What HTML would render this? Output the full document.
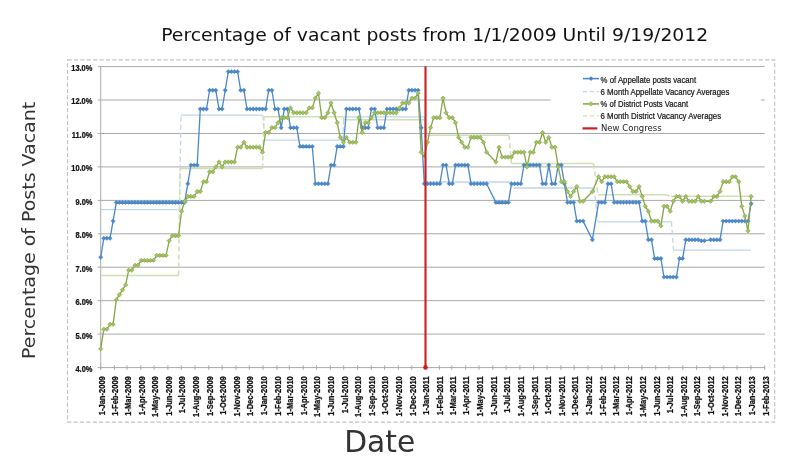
<!DOCTYPE html>
<html><head><meta charset="utf-8"><title>Percentage of vacant posts</title>
<style>
html,body{margin:0;padding:0;background:#fff;}
body{width:800px;height:462px;overflow:hidden;}
svg{display:block;}
.cal{font-family:"Liberation Sans",sans-serif;}
.dj{font-family:"DejaVu Sans","Liberation Sans",sans-serif;}
</style></head><body>
<svg width="800" height="462" viewBox="0 0 800 462">
<rect width="800" height="462" fill="#fff"/>
<rect x="67.5" y="59.9" width="707.2" height="362.2" fill="none" stroke="#c2c2c2" stroke-width="1.1" stroke-dasharray="4.2 2.2"/>
<g stroke="#a9a9a9" stroke-width="1" fill="none">
<path d="M97.7 367.6H764.7"/><path d="M97.7 334.1H764.7"/><path d="M97.7 300.7H764.7"/><path d="M97.7 267.2H764.7"/><path d="M97.7 233.8H764.7"/><path d="M97.7 200.4H764.7"/><path d="M97.7 166.9H764.7"/><path d="M97.7 133.5H764.7"/><path d="M97.7 100.0H764.7"/><path d="M97.7 66.6H764.7"/>
<path d="M100.7 66.3V369.8"/>
<path d="M100.7 365.4V369.8"/><path d="M114.5 365.4V369.8"/><path d="M127.0 365.4V369.8"/><path d="M140.8 365.4V369.8"/><path d="M154.1 365.4V369.8"/><path d="M167.9 365.4V369.8"/><path d="M181.3 365.4V369.8"/><path d="M195.0 365.4V369.8"/><path d="M208.8 365.4V369.8"/><path d="M222.2 365.4V369.8"/><path d="M236.0 365.4V369.8"/><path d="M249.3 365.4V369.8"/><path d="M263.1 365.4V369.8"/><path d="M276.9 365.4V369.8"/><path d="M289.4 365.4V369.8"/><path d="M303.2 365.4V369.8"/><path d="M316.5 365.4V369.8"/><path d="M330.3 365.4V369.8"/><path d="M343.7 365.4V369.8"/><path d="M357.5 365.4V369.8"/><path d="M371.3 365.4V369.8"/><path d="M384.6 365.4V369.8"/><path d="M398.4 365.4V369.8"/><path d="M411.8 365.4V369.8"/><path d="M425.6 365.4V369.8"/><path d="M439.4 365.4V369.8"/><path d="M451.8 365.4V369.8"/><path d="M465.6 365.4V369.8"/><path d="M479.0 365.4V369.8"/><path d="M492.8 365.4V369.8"/><path d="M506.1 365.4V369.8"/><path d="M519.9 365.4V369.8"/><path d="M533.7 365.4V369.8"/><path d="M547.1 365.4V369.8"/><path d="M560.9 365.4V369.8"/><path d="M574.2 365.4V369.8"/><path d="M588.0 365.4V369.8"/><path d="M601.8 365.4V369.8"/><path d="M614.7 365.4V369.8"/><path d="M628.5 365.4V369.8"/><path d="M641.9 365.4V369.8"/><path d="M655.7 365.4V369.8"/><path d="M669.0 365.4V369.8"/><path d="M682.8 365.4V369.8"/><path d="M696.6 365.4V369.8"/><path d="M710.0 365.4V369.8"/><path d="M723.8 365.4V369.8"/><path d="M737.1 365.4V369.8"/><path d="M750.9 365.4V369.8"/><path d="M764.7 365.4V369.8"/></g>
<g class="cal" font-size="8.2" font-weight="bold" fill="#111" stroke="#111" stroke-width="0.25" text-anchor="end">
<text transform="translate(92.4 372.0) scale(0.91 1)">4.0%</text><text transform="translate(92.4 338.5) scale(0.91 1)">5.0%</text><text transform="translate(92.4 305.1) scale(0.91 1)">6.0%</text><text transform="translate(92.4 271.6) scale(0.91 1)">7.0%</text><text transform="translate(92.4 238.2) scale(0.91 1)">8.0%</text><text transform="translate(92.4 204.8) scale(0.91 1)">9.0%</text><text transform="translate(92.4 171.3) scale(0.91 1)">10.0%</text><text transform="translate(92.4 137.9) scale(0.91 1)">11.0%</text><text transform="translate(92.4 104.4) scale(0.91 1)">12.0%</text><text transform="translate(92.4 71.0) scale(0.91 1)">13.0%</text></g>
<g class="cal" font-size="8.5" font-weight="bold" fill="#111" stroke="#111" stroke-width="0.25" text-anchor="end">
<text transform="translate(104.5 376.2) rotate(-90) scale(0.89 1)">1-Jan-2009</text><text transform="translate(118.3 376.2) rotate(-90) scale(0.89 1)">1-Feb-2009</text><text transform="translate(130.8 376.2) rotate(-90) scale(0.89 1)">1-Mar-2009</text><text transform="translate(144.6 376.2) rotate(-90) scale(0.89 1)">1-Apr-2009</text><text transform="translate(157.9 376.2) rotate(-90) scale(0.89 1)">1-May-2009</text><text transform="translate(171.7 376.2) rotate(-90) scale(0.89 1)">1-Jun-2009</text><text transform="translate(185.1 376.2) rotate(-90) scale(0.89 1)">1-Jul-2009</text><text transform="translate(198.8 376.2) rotate(-90) scale(0.89 1)">1-Aug-2009</text><text transform="translate(212.6 376.2) rotate(-90) scale(0.89 1)">1-Sep-2009</text><text transform="translate(226.0 376.2) rotate(-90) scale(0.89 1)">1-Oct-2009</text><text transform="translate(239.8 376.2) rotate(-90) scale(0.89 1)">1-Nov-2009</text><text transform="translate(253.1 376.2) rotate(-90) scale(0.89 1)">1-Dec-2009</text><text transform="translate(266.9 376.2) rotate(-90) scale(0.89 1)">1-Jan-2010</text><text transform="translate(280.7 376.2) rotate(-90) scale(0.89 1)">1-Feb-2010</text><text transform="translate(293.2 376.2) rotate(-90) scale(0.89 1)">1-Mar-2010</text><text transform="translate(307.0 376.2) rotate(-90) scale(0.89 1)">1-Apr-2010</text><text transform="translate(320.3 376.2) rotate(-90) scale(0.89 1)">1-May-2010</text><text transform="translate(334.1 376.2) rotate(-90) scale(0.89 1)">1-Jun-2010</text><text transform="translate(347.5 376.2) rotate(-90) scale(0.89 1)">1-Jul-2010</text><text transform="translate(361.3 376.2) rotate(-90) scale(0.89 1)">1-Aug-2010</text><text transform="translate(375.1 376.2) rotate(-90) scale(0.89 1)">1-Sep-2010</text><text transform="translate(388.4 376.2) rotate(-90) scale(0.89 1)">1-Oct-2010</text><text transform="translate(402.2 376.2) rotate(-90) scale(0.89 1)">1-Nov-2010</text><text transform="translate(415.6 376.2) rotate(-90) scale(0.89 1)">1-Dec-2010</text><text transform="translate(429.4 376.2) rotate(-90) scale(0.89 1)">1-Jan-2011</text><text transform="translate(443.2 376.2) rotate(-90) scale(0.89 1)">1-Feb-2011</text><text transform="translate(455.6 376.2) rotate(-90) scale(0.89 1)">1-Mar-2011</text><text transform="translate(469.4 376.2) rotate(-90) scale(0.89 1)">1-Apr-2011</text><text transform="translate(482.8 376.2) rotate(-90) scale(0.89 1)">1-May-2011</text><text transform="translate(496.6 376.2) rotate(-90) scale(0.89 1)">1-Jun-2011</text><text transform="translate(509.9 376.2) rotate(-90) scale(0.89 1)">1-Jul-2011</text><text transform="translate(523.7 376.2) rotate(-90) scale(0.89 1)">1-Aug-2011</text><text transform="translate(537.5 376.2) rotate(-90) scale(0.89 1)">1-Sep-2011</text><text transform="translate(550.9 376.2) rotate(-90) scale(0.89 1)">1-Oct-2011</text><text transform="translate(564.7 376.2) rotate(-90) scale(0.89 1)">1-Nov-2011</text><text transform="translate(578.0 376.2) rotate(-90) scale(0.89 1)">1-Dec-2011</text><text transform="translate(591.8 376.2) rotate(-90) scale(0.89 1)">1-Jan-2012</text><text transform="translate(605.6 376.2) rotate(-90) scale(0.89 1)">1-Feb-2012</text><text transform="translate(618.5 376.2) rotate(-90) scale(0.89 1)">1-Mar-2012</text><text transform="translate(632.3 376.2) rotate(-90) scale(0.89 1)">1-Apr-2012</text><text transform="translate(645.7 376.2) rotate(-90) scale(0.89 1)">1-May-2012</text><text transform="translate(659.5 376.2) rotate(-90) scale(0.89 1)">1-Jun-2012</text><text transform="translate(672.8 376.2) rotate(-90) scale(0.89 1)">1-Jul-2012</text><text transform="translate(686.6 376.2) rotate(-90) scale(0.89 1)">1-Aug-2012</text><text transform="translate(700.4 376.2) rotate(-90) scale(0.89 1)">1-Sep-2012</text><text transform="translate(713.8 376.2) rotate(-90) scale(0.89 1)">1-Oct-2012</text><text transform="translate(727.6 376.2) rotate(-90) scale(0.89 1)">1-Nov-2012</text><text transform="translate(740.9 376.2) rotate(-90) scale(0.89 1)">1-Dec-2012</text><text transform="translate(754.7 376.2) rotate(-90) scale(0.89 1)">1-Jan-2013</text><text transform="translate(768.5 376.2) rotate(-90) scale(0.89 1)">1-Feb-2013</text></g>
<path d="M100.7 209.7H179.5M181.0 115.1H263.0M264.5 140.2H342.5M344.0 116.8H424.5M426.0 182.0H510.5M513.5 188.0H594.0M598.0 221.8H671.5M673.5 250.2H751.0" stroke="#c2d5eb" stroke-width="1.3" fill="none"/>
<path d="M179.5 209.7L181.0 115.1M263.0 115.1L264.5 140.2M342.5 140.2L344.0 116.8M424.5 116.8L426.0 182.0M510.5 182.0L513.5 188.0M594.0 188.0L598.0 221.8M671.5 221.8L673.5 250.2" stroke="#c2d5eb" stroke-width="1.3" fill="none" stroke-dasharray="5 3"/>
<path d="M100.7 275.6H178.6M180.0 168.6H262.6M264.0 116.8H343.0M344.5 119.8H424.5M427.0 135.2H509.0M511.5 163.6H593.5M598.0 194.7H665.0M671.0 196.3H750.5" stroke="#cfdfb2" stroke-width="1.5" fill="none"/>
<path d="M178.6 275.6L180.0 168.6M262.6 168.6L264.0 116.8M343.0 116.8L344.5 119.8M424.5 119.8L427.0 135.2M509.0 135.2L511.5 163.6M593.5 163.6L598.0 194.7M665.0 194.7L671.0 196.3" stroke="#cfdfb2" stroke-width="1.5" fill="none" stroke-dasharray="5 3"/>
<polyline points="100.7,257.2 103.8,238.3 106.9,238.3 110.0,238.3 113.1,221.1 116.3,202.4 119.4,202.4 122.5,202.4 125.6,202.4 128.7,202.4 131.8,202.4 134.9,202.4 138.0,202.4 141.2,202.4 144.3,202.4 147.4,202.4 150.5,202.4 153.6,202.4 156.7,202.4 159.8,202.4 162.9,202.4 166.1,202.4 169.2,202.4 172.3,202.4 175.4,202.4 178.5,202.4 181.6,202.4 184.7,202.4 187.8,183.7 190.9,165.1 194.1,165.1 197.2,165.1 200.3,109.0 203.4,109.0 206.5,109.0 209.6,90.3 212.7,90.3 215.8,90.3 219.0,109.0 222.1,109.0 225.2,90.3 228.3,71.6 231.4,71.6 234.5,71.6 237.6,71.6 240.7,90.3 243.9,90.3 247.0,109.0 250.1,109.0 253.2,109.0 256.3,109.0 259.4,109.0 262.5,109.0 265.6,109.0 268.7,90.3 271.9,90.3 275.0,109.0 278.1,109.0 281.2,127.7 284.3,109.0 287.4,109.0 290.5,127.7 293.6,127.7 296.8,127.7 299.9,146.4 303.0,146.4 306.1,146.4 309.2,146.4 312.3,146.4 315.4,183.7 318.5,183.7 321.7,183.7 324.8,183.7 327.9,183.7 331.0,165.1 334.1,165.1 337.2,146.4 340.3,146.4 343.4,146.4 346.5,109.0 349.7,109.0 352.8,109.0 355.9,109.0 359.0,109.0 362.1,127.7 365.2,127.7 368.3,127.7 371.4,109.0 374.6,109.0 377.7,127.7 380.8,127.7 383.9,127.7 387.0,109.0 390.1,109.0 393.2,109.0 396.3,109.0 399.5,109.0 402.6,109.0 405.7,109.0 408.8,90.3 411.9,90.3 415.0,90.3 418.1,90.3 421.2,127.7 424.3,183.7 427.5,183.7 430.6,183.7 433.7,183.7 436.8,183.7 439.9,183.7 443.0,165.1 446.1,165.1 449.2,183.7 452.4,183.7 455.5,165.1 458.6,165.1 461.7,165.1 464.8,165.1 467.9,165.1 471.0,183.7 474.1,183.7 477.3,183.7 480.4,183.7 483.5,183.7 486.6,183.7 495.9,202.4 499.0,202.4 502.1,202.4 505.3,202.4 508.4,202.4 511.5,183.7 514.6,183.7 517.7,183.7 520.8,183.7 523.9,165.1 527.0,165.1 530.2,165.1 533.3,165.1 536.4,165.1 539.5,165.1 542.6,183.7 545.7,183.7 548.8,165.1 551.9,183.7 555.1,183.7 558.2,165.1 561.3,165.1 564.4,183.7 567.5,202.4 570.6,202.4 573.7,202.4 576.8,221.1 579.9,221.1 583.1,221.1 592.4,239.8 598.6,202.4 601.7,202.4 604.8,202.4 608.0,183.7 611.1,183.7 614.2,202.4 617.3,202.4 620.4,202.4 623.5,202.4 626.6,202.4 629.7,202.4 632.9,202.4 636.0,202.4 639.1,202.4 642.2,221.1 645.3,221.1 648.4,239.8 651.5,239.8 654.6,258.5 657.7,258.5 660.9,258.5 664.0,277.1 667.1,277.1 670.2,277.1 673.3,277.1 676.4,277.1 679.5,258.5 682.6,258.5 685.8,239.8 688.9,239.8 692.0,239.8 695.1,239.8 698.2,239.8 701.3,240.7 704.4,240.7 710.7,239.8 713.8,239.8 716.9,239.8 720.0,239.8 723.1,221.1 726.2,221.1 729.3,221.1 732.4,221.1 735.5,221.1 738.7,221.1 741.8,221.1 744.9,221.1 748.0,221.1 751.1,203.7" fill="none" stroke="#4a88c8" stroke-width="1.3" stroke-linejoin="round"/>
<path d="M100.7 255.0l2.2 2.2l-2.2 2.2l-2.2 -2.2zM103.8 236.1l2.2 2.2l-2.2 2.2l-2.2 -2.2zM106.9 236.1l2.2 2.2l-2.2 2.2l-2.2 -2.2zM110.0 236.1l2.2 2.2l-2.2 2.2l-2.2 -2.2zM113.1 218.9l2.2 2.2l-2.2 2.2l-2.2 -2.2zM116.3 200.2l2.2 2.2l-2.2 2.2l-2.2 -2.2zM119.4 200.2l2.2 2.2l-2.2 2.2l-2.2 -2.2zM122.5 200.2l2.2 2.2l-2.2 2.2l-2.2 -2.2zM125.6 200.2l2.2 2.2l-2.2 2.2l-2.2 -2.2zM128.7 200.2l2.2 2.2l-2.2 2.2l-2.2 -2.2zM131.8 200.2l2.2 2.2l-2.2 2.2l-2.2 -2.2zM134.9 200.2l2.2 2.2l-2.2 2.2l-2.2 -2.2zM138.0 200.2l2.2 2.2l-2.2 2.2l-2.2 -2.2zM141.2 200.2l2.2 2.2l-2.2 2.2l-2.2 -2.2zM144.3 200.2l2.2 2.2l-2.2 2.2l-2.2 -2.2zM147.4 200.2l2.2 2.2l-2.2 2.2l-2.2 -2.2zM150.5 200.2l2.2 2.2l-2.2 2.2l-2.2 -2.2zM153.6 200.2l2.2 2.2l-2.2 2.2l-2.2 -2.2zM156.7 200.2l2.2 2.2l-2.2 2.2l-2.2 -2.2zM159.8 200.2l2.2 2.2l-2.2 2.2l-2.2 -2.2zM162.9 200.2l2.2 2.2l-2.2 2.2l-2.2 -2.2zM166.1 200.2l2.2 2.2l-2.2 2.2l-2.2 -2.2zM169.2 200.2l2.2 2.2l-2.2 2.2l-2.2 -2.2zM172.3 200.2l2.2 2.2l-2.2 2.2l-2.2 -2.2zM175.4 200.2l2.2 2.2l-2.2 2.2l-2.2 -2.2zM178.5 200.2l2.2 2.2l-2.2 2.2l-2.2 -2.2zM181.6 200.2l2.2 2.2l-2.2 2.2l-2.2 -2.2zM184.7 200.2l2.2 2.2l-2.2 2.2l-2.2 -2.2zM187.8 181.5l2.2 2.2l-2.2 2.2l-2.2 -2.2zM190.9 162.9l2.2 2.2l-2.2 2.2l-2.2 -2.2zM194.1 162.9l2.2 2.2l-2.2 2.2l-2.2 -2.2zM197.2 162.9l2.2 2.2l-2.2 2.2l-2.2 -2.2zM200.3 106.8l2.2 2.2l-2.2 2.2l-2.2 -2.2zM203.4 106.8l2.2 2.2l-2.2 2.2l-2.2 -2.2zM206.5 106.8l2.2 2.2l-2.2 2.2l-2.2 -2.2zM209.6 88.1l2.2 2.2l-2.2 2.2l-2.2 -2.2zM212.7 88.1l2.2 2.2l-2.2 2.2l-2.2 -2.2zM215.8 88.1l2.2 2.2l-2.2 2.2l-2.2 -2.2zM219.0 106.8l2.2 2.2l-2.2 2.2l-2.2 -2.2zM222.1 106.8l2.2 2.2l-2.2 2.2l-2.2 -2.2zM225.2 88.1l2.2 2.2l-2.2 2.2l-2.2 -2.2zM228.3 69.4l2.2 2.2l-2.2 2.2l-2.2 -2.2zM231.4 69.4l2.2 2.2l-2.2 2.2l-2.2 -2.2zM234.5 69.4l2.2 2.2l-2.2 2.2l-2.2 -2.2zM237.6 69.4l2.2 2.2l-2.2 2.2l-2.2 -2.2zM240.7 88.1l2.2 2.2l-2.2 2.2l-2.2 -2.2zM243.9 88.1l2.2 2.2l-2.2 2.2l-2.2 -2.2zM247.0 106.8l2.2 2.2l-2.2 2.2l-2.2 -2.2zM250.1 106.8l2.2 2.2l-2.2 2.2l-2.2 -2.2zM253.2 106.8l2.2 2.2l-2.2 2.2l-2.2 -2.2zM256.3 106.8l2.2 2.2l-2.2 2.2l-2.2 -2.2zM259.4 106.8l2.2 2.2l-2.2 2.2l-2.2 -2.2zM262.5 106.8l2.2 2.2l-2.2 2.2l-2.2 -2.2zM265.6 106.8l2.2 2.2l-2.2 2.2l-2.2 -2.2zM268.7 88.1l2.2 2.2l-2.2 2.2l-2.2 -2.2zM271.9 88.1l2.2 2.2l-2.2 2.2l-2.2 -2.2zM275.0 106.8l2.2 2.2l-2.2 2.2l-2.2 -2.2zM278.1 106.8l2.2 2.2l-2.2 2.2l-2.2 -2.2zM281.2 125.5l2.2 2.2l-2.2 2.2l-2.2 -2.2zM284.3 106.8l2.2 2.2l-2.2 2.2l-2.2 -2.2zM287.4 106.8l2.2 2.2l-2.2 2.2l-2.2 -2.2zM290.5 125.5l2.2 2.2l-2.2 2.2l-2.2 -2.2zM293.6 125.5l2.2 2.2l-2.2 2.2l-2.2 -2.2zM296.8 125.5l2.2 2.2l-2.2 2.2l-2.2 -2.2zM299.9 144.2l2.2 2.2l-2.2 2.2l-2.2 -2.2zM303.0 144.2l2.2 2.2l-2.2 2.2l-2.2 -2.2zM306.1 144.2l2.2 2.2l-2.2 2.2l-2.2 -2.2zM309.2 144.2l2.2 2.2l-2.2 2.2l-2.2 -2.2zM312.3 144.2l2.2 2.2l-2.2 2.2l-2.2 -2.2zM315.4 181.5l2.2 2.2l-2.2 2.2l-2.2 -2.2zM318.5 181.5l2.2 2.2l-2.2 2.2l-2.2 -2.2zM321.7 181.5l2.2 2.2l-2.2 2.2l-2.2 -2.2zM324.8 181.5l2.2 2.2l-2.2 2.2l-2.2 -2.2zM327.9 181.5l2.2 2.2l-2.2 2.2l-2.2 -2.2zM331.0 162.9l2.2 2.2l-2.2 2.2l-2.2 -2.2zM334.1 162.9l2.2 2.2l-2.2 2.2l-2.2 -2.2zM337.2 144.2l2.2 2.2l-2.2 2.2l-2.2 -2.2zM340.3 144.2l2.2 2.2l-2.2 2.2l-2.2 -2.2zM343.4 144.2l2.2 2.2l-2.2 2.2l-2.2 -2.2zM346.5 106.8l2.2 2.2l-2.2 2.2l-2.2 -2.2zM349.7 106.8l2.2 2.2l-2.2 2.2l-2.2 -2.2zM352.8 106.8l2.2 2.2l-2.2 2.2l-2.2 -2.2zM355.9 106.8l2.2 2.2l-2.2 2.2l-2.2 -2.2zM359.0 106.8l2.2 2.2l-2.2 2.2l-2.2 -2.2zM362.1 125.5l2.2 2.2l-2.2 2.2l-2.2 -2.2zM365.2 125.5l2.2 2.2l-2.2 2.2l-2.2 -2.2zM368.3 125.5l2.2 2.2l-2.2 2.2l-2.2 -2.2zM371.4 106.8l2.2 2.2l-2.2 2.2l-2.2 -2.2zM374.6 106.8l2.2 2.2l-2.2 2.2l-2.2 -2.2zM377.7 125.5l2.2 2.2l-2.2 2.2l-2.2 -2.2zM380.8 125.5l2.2 2.2l-2.2 2.2l-2.2 -2.2zM383.9 125.5l2.2 2.2l-2.2 2.2l-2.2 -2.2zM387.0 106.8l2.2 2.2l-2.2 2.2l-2.2 -2.2zM390.1 106.8l2.2 2.2l-2.2 2.2l-2.2 -2.2zM393.2 106.8l2.2 2.2l-2.2 2.2l-2.2 -2.2zM396.3 106.8l2.2 2.2l-2.2 2.2l-2.2 -2.2zM399.5 106.8l2.2 2.2l-2.2 2.2l-2.2 -2.2zM402.6 106.8l2.2 2.2l-2.2 2.2l-2.2 -2.2zM405.7 106.8l2.2 2.2l-2.2 2.2l-2.2 -2.2zM408.8 88.1l2.2 2.2l-2.2 2.2l-2.2 -2.2zM411.9 88.1l2.2 2.2l-2.2 2.2l-2.2 -2.2zM415.0 88.1l2.2 2.2l-2.2 2.2l-2.2 -2.2zM418.1 88.1l2.2 2.2l-2.2 2.2l-2.2 -2.2zM421.2 125.5l2.2 2.2l-2.2 2.2l-2.2 -2.2zM424.3 181.5l2.2 2.2l-2.2 2.2l-2.2 -2.2zM427.5 181.5l2.2 2.2l-2.2 2.2l-2.2 -2.2zM430.6 181.5l2.2 2.2l-2.2 2.2l-2.2 -2.2zM433.7 181.5l2.2 2.2l-2.2 2.2l-2.2 -2.2zM436.8 181.5l2.2 2.2l-2.2 2.2l-2.2 -2.2zM439.9 181.5l2.2 2.2l-2.2 2.2l-2.2 -2.2zM443.0 162.9l2.2 2.2l-2.2 2.2l-2.2 -2.2zM446.1 162.9l2.2 2.2l-2.2 2.2l-2.2 -2.2zM449.2 181.5l2.2 2.2l-2.2 2.2l-2.2 -2.2zM452.4 181.5l2.2 2.2l-2.2 2.2l-2.2 -2.2zM455.5 162.9l2.2 2.2l-2.2 2.2l-2.2 -2.2zM458.6 162.9l2.2 2.2l-2.2 2.2l-2.2 -2.2zM461.7 162.9l2.2 2.2l-2.2 2.2l-2.2 -2.2zM464.8 162.9l2.2 2.2l-2.2 2.2l-2.2 -2.2zM467.9 162.9l2.2 2.2l-2.2 2.2l-2.2 -2.2zM471.0 181.5l2.2 2.2l-2.2 2.2l-2.2 -2.2zM474.1 181.5l2.2 2.2l-2.2 2.2l-2.2 -2.2zM477.3 181.5l2.2 2.2l-2.2 2.2l-2.2 -2.2zM480.4 181.5l2.2 2.2l-2.2 2.2l-2.2 -2.2zM483.5 181.5l2.2 2.2l-2.2 2.2l-2.2 -2.2zM486.6 181.5l2.2 2.2l-2.2 2.2l-2.2 -2.2zM495.9 200.2l2.2 2.2l-2.2 2.2l-2.2 -2.2zM499.0 200.2l2.2 2.2l-2.2 2.2l-2.2 -2.2zM502.1 200.2l2.2 2.2l-2.2 2.2l-2.2 -2.2zM505.3 200.2l2.2 2.2l-2.2 2.2l-2.2 -2.2zM508.4 200.2l2.2 2.2l-2.2 2.2l-2.2 -2.2zM511.5 181.5l2.2 2.2l-2.2 2.2l-2.2 -2.2zM514.6 181.5l2.2 2.2l-2.2 2.2l-2.2 -2.2zM517.7 181.5l2.2 2.2l-2.2 2.2l-2.2 -2.2zM520.8 181.5l2.2 2.2l-2.2 2.2l-2.2 -2.2zM523.9 162.9l2.2 2.2l-2.2 2.2l-2.2 -2.2zM527.0 162.9l2.2 2.2l-2.2 2.2l-2.2 -2.2zM530.2 162.9l2.2 2.2l-2.2 2.2l-2.2 -2.2zM533.3 162.9l2.2 2.2l-2.2 2.2l-2.2 -2.2zM536.4 162.9l2.2 2.2l-2.2 2.2l-2.2 -2.2zM539.5 162.9l2.2 2.2l-2.2 2.2l-2.2 -2.2zM542.6 181.5l2.2 2.2l-2.2 2.2l-2.2 -2.2zM545.7 181.5l2.2 2.2l-2.2 2.2l-2.2 -2.2zM548.8 162.9l2.2 2.2l-2.2 2.2l-2.2 -2.2zM551.9 181.5l2.2 2.2l-2.2 2.2l-2.2 -2.2zM555.1 181.5l2.2 2.2l-2.2 2.2l-2.2 -2.2zM558.2 162.9l2.2 2.2l-2.2 2.2l-2.2 -2.2zM561.3 162.9l2.2 2.2l-2.2 2.2l-2.2 -2.2zM564.4 181.5l2.2 2.2l-2.2 2.2l-2.2 -2.2zM567.5 200.2l2.2 2.2l-2.2 2.2l-2.2 -2.2zM570.6 200.2l2.2 2.2l-2.2 2.2l-2.2 -2.2zM573.7 200.2l2.2 2.2l-2.2 2.2l-2.2 -2.2zM576.8 218.9l2.2 2.2l-2.2 2.2l-2.2 -2.2zM579.9 218.9l2.2 2.2l-2.2 2.2l-2.2 -2.2zM583.1 218.9l2.2 2.2l-2.2 2.2l-2.2 -2.2zM592.4 237.6l2.2 2.2l-2.2 2.2l-2.2 -2.2zM598.6 200.2l2.2 2.2l-2.2 2.2l-2.2 -2.2zM601.7 200.2l2.2 2.2l-2.2 2.2l-2.2 -2.2zM604.8 200.2l2.2 2.2l-2.2 2.2l-2.2 -2.2zM608.0 181.5l2.2 2.2l-2.2 2.2l-2.2 -2.2zM611.1 181.5l2.2 2.2l-2.2 2.2l-2.2 -2.2zM614.2 200.2l2.2 2.2l-2.2 2.2l-2.2 -2.2zM617.3 200.2l2.2 2.2l-2.2 2.2l-2.2 -2.2zM620.4 200.2l2.2 2.2l-2.2 2.2l-2.2 -2.2zM623.5 200.2l2.2 2.2l-2.2 2.2l-2.2 -2.2zM626.6 200.2l2.2 2.2l-2.2 2.2l-2.2 -2.2zM629.7 200.2l2.2 2.2l-2.2 2.2l-2.2 -2.2zM632.9 200.2l2.2 2.2l-2.2 2.2l-2.2 -2.2zM636.0 200.2l2.2 2.2l-2.2 2.2l-2.2 -2.2zM639.1 200.2l2.2 2.2l-2.2 2.2l-2.2 -2.2zM642.2 218.9l2.2 2.2l-2.2 2.2l-2.2 -2.2zM645.3 218.9l2.2 2.2l-2.2 2.2l-2.2 -2.2zM648.4 237.6l2.2 2.2l-2.2 2.2l-2.2 -2.2zM651.5 237.6l2.2 2.2l-2.2 2.2l-2.2 -2.2zM654.6 256.3l2.2 2.2l-2.2 2.2l-2.2 -2.2zM657.7 256.3l2.2 2.2l-2.2 2.2l-2.2 -2.2zM660.9 256.3l2.2 2.2l-2.2 2.2l-2.2 -2.2zM664.0 274.9l2.2 2.2l-2.2 2.2l-2.2 -2.2zM667.1 274.9l2.2 2.2l-2.2 2.2l-2.2 -2.2zM670.2 274.9l2.2 2.2l-2.2 2.2l-2.2 -2.2zM673.3 274.9l2.2 2.2l-2.2 2.2l-2.2 -2.2zM676.4 274.9l2.2 2.2l-2.2 2.2l-2.2 -2.2zM679.5 256.3l2.2 2.2l-2.2 2.2l-2.2 -2.2zM682.6 256.3l2.2 2.2l-2.2 2.2l-2.2 -2.2zM685.8 237.6l2.2 2.2l-2.2 2.2l-2.2 -2.2zM688.9 237.6l2.2 2.2l-2.2 2.2l-2.2 -2.2zM692.0 237.6l2.2 2.2l-2.2 2.2l-2.2 -2.2zM695.1 237.6l2.2 2.2l-2.2 2.2l-2.2 -2.2zM698.2 237.6l2.2 2.2l-2.2 2.2l-2.2 -2.2zM701.3 238.5l2.2 2.2l-2.2 2.2l-2.2 -2.2zM704.4 238.5l2.2 2.2l-2.2 2.2l-2.2 -2.2zM710.7 237.6l2.2 2.2l-2.2 2.2l-2.2 -2.2zM713.8 237.6l2.2 2.2l-2.2 2.2l-2.2 -2.2zM716.9 237.6l2.2 2.2l-2.2 2.2l-2.2 -2.2zM720.0 237.6l2.2 2.2l-2.2 2.2l-2.2 -2.2zM723.1 218.9l2.2 2.2l-2.2 2.2l-2.2 -2.2zM726.2 218.9l2.2 2.2l-2.2 2.2l-2.2 -2.2zM729.3 218.9l2.2 2.2l-2.2 2.2l-2.2 -2.2zM732.4 218.9l2.2 2.2l-2.2 2.2l-2.2 -2.2zM735.5 218.9l2.2 2.2l-2.2 2.2l-2.2 -2.2zM738.7 218.9l2.2 2.2l-2.2 2.2l-2.2 -2.2zM741.8 218.9l2.2 2.2l-2.2 2.2l-2.2 -2.2zM744.9 218.9l2.2 2.2l-2.2 2.2l-2.2 -2.2zM748.0 218.9l2.2 2.2l-2.2 2.2l-2.2 -2.2zM751.1 201.5l2.2 2.2l-2.2 2.2l-2.2 -2.2z" fill="#4a88c8" stroke="#4a88c8" stroke-width="0.4"/>
<polyline points="100.7,348.9 103.8,329.2 106.9,329.2 110.0,324.3 113.1,324.3 116.3,299.7 119.4,294.8 122.5,289.9 125.6,284.9 128.7,270.2 131.8,270.2 134.9,265.3 138.0,265.3 141.2,260.4 144.3,260.4 147.4,260.4 150.5,260.4 153.6,260.4 156.7,255.4 159.8,255.4 162.9,255.4 166.1,255.4 169.2,240.7 172.3,235.8 175.4,235.8 178.5,235.8 181.6,211.2 184.7,201.3 187.8,196.4 190.9,196.4 194.1,196.4 197.2,191.5 200.3,191.5 203.4,181.7 206.5,181.7 209.6,171.8 212.7,171.8 215.8,166.9 219.0,162.0 222.1,166.9 225.2,162.0 228.3,162.0 231.4,162.0 234.5,162.0 237.6,147.2 240.7,147.2 243.9,142.3 247.0,147.2 250.1,147.2 253.2,147.2 256.3,147.2 259.4,147.2 262.5,152.2 265.6,132.5 268.7,132.5 271.9,127.6 275.0,127.6 278.1,122.7 281.2,117.7 284.3,117.7 287.4,117.7 290.5,107.9 293.6,112.8 296.8,112.8 299.9,112.8 303.0,112.8 306.1,112.8 309.2,107.9 312.3,107.9 315.4,98.1 318.5,93.2 321.7,117.7 324.8,117.7 327.9,112.8 331.0,103.0 334.1,112.8 337.2,122.7 340.3,137.4 343.4,142.3 346.5,137.4 349.7,142.3 352.8,142.3 355.9,142.3 359.0,117.7 362.1,132.5 365.2,122.7 368.3,122.7 371.4,117.7 374.6,112.8 377.7,112.8 380.8,112.8 383.9,112.8 387.0,112.8 390.1,112.8 393.2,112.8 396.3,112.8 399.5,107.9 402.6,103.0 405.7,103.0 408.8,103.0 411.9,98.1 415.0,98.1 418.1,93.2 421.2,152.2 424.3,157.1 427.5,142.3 430.6,127.6 433.7,117.7 436.8,117.7 439.9,117.7 443.0,98.1 446.1,112.8 449.2,117.7 452.4,117.7 455.5,122.7 458.6,137.4 461.7,142.3 464.8,147.2 467.9,147.2 471.0,137.4 474.1,137.4 477.3,137.4 480.4,137.4 483.5,142.3 486.6,152.2 495.9,162.0 499.0,147.2 502.1,157.1 505.3,157.1 508.4,157.1 511.5,157.1 514.6,152.2 517.7,152.2 520.8,152.2 523.9,152.2 527.0,166.9 530.2,152.2 533.3,152.2 536.4,142.3 539.5,142.3 542.6,132.5 545.7,142.3 548.8,137.4 551.9,147.2 555.1,147.2 558.2,166.9 561.3,181.7 564.4,181.7 567.5,191.5 570.6,196.4 573.7,191.5 576.8,186.6 579.9,201.3 583.1,201.3 592.4,191.5 598.6,176.8 601.7,181.7 604.8,176.8 608.0,176.8 611.1,176.8 614.2,176.8 617.3,181.7 620.4,181.7 623.5,181.7 626.6,181.7 629.7,186.6 632.9,191.5 636.0,191.5 639.1,186.6 642.2,196.4 645.3,206.3 648.4,211.2 651.5,221.0 654.6,221.0 657.7,221.0 660.9,225.9 664.0,206.3 667.1,206.3 670.2,211.2 673.3,201.3 676.4,196.4 679.5,196.4 682.6,201.3 685.8,196.4 688.9,201.3 692.0,201.3 695.1,201.3 698.2,196.4 701.3,201.3 704.4,201.3 710.7,201.3 713.8,196.4 716.9,196.4 720.0,191.5 723.1,181.7 726.2,181.7 729.3,181.7 732.4,176.8 735.5,176.8 738.7,181.7 741.8,206.3 744.9,216.1 748.0,230.8 751.1,196.4" fill="none" stroke="#86a548" stroke-width="1.3" stroke-linejoin="round"/>
<path d="M100.7 346.7l2.2 2.2l-2.2 2.2l-2.2 -2.2zM103.8 327.0l2.2 2.2l-2.2 2.2l-2.2 -2.2zM106.9 327.0l2.2 2.2l-2.2 2.2l-2.2 -2.2zM110.0 322.1l2.2 2.2l-2.2 2.2l-2.2 -2.2zM113.1 322.1l2.2 2.2l-2.2 2.2l-2.2 -2.2zM116.3 297.5l2.2 2.2l-2.2 2.2l-2.2 -2.2zM119.4 292.6l2.2 2.2l-2.2 2.2l-2.2 -2.2zM122.5 287.7l2.2 2.2l-2.2 2.2l-2.2 -2.2zM125.6 282.7l2.2 2.2l-2.2 2.2l-2.2 -2.2zM128.7 268.0l2.2 2.2l-2.2 2.2l-2.2 -2.2zM131.8 268.0l2.2 2.2l-2.2 2.2l-2.2 -2.2zM134.9 263.1l2.2 2.2l-2.2 2.2l-2.2 -2.2zM138.0 263.1l2.2 2.2l-2.2 2.2l-2.2 -2.2zM141.2 258.2l2.2 2.2l-2.2 2.2l-2.2 -2.2zM144.3 258.2l2.2 2.2l-2.2 2.2l-2.2 -2.2zM147.4 258.2l2.2 2.2l-2.2 2.2l-2.2 -2.2zM150.5 258.2l2.2 2.2l-2.2 2.2l-2.2 -2.2zM153.6 258.2l2.2 2.2l-2.2 2.2l-2.2 -2.2zM156.7 253.2l2.2 2.2l-2.2 2.2l-2.2 -2.2zM159.8 253.2l2.2 2.2l-2.2 2.2l-2.2 -2.2zM162.9 253.2l2.2 2.2l-2.2 2.2l-2.2 -2.2zM166.1 253.2l2.2 2.2l-2.2 2.2l-2.2 -2.2zM169.2 238.5l2.2 2.2l-2.2 2.2l-2.2 -2.2zM172.3 233.6l2.2 2.2l-2.2 2.2l-2.2 -2.2zM175.4 233.6l2.2 2.2l-2.2 2.2l-2.2 -2.2zM178.5 233.6l2.2 2.2l-2.2 2.2l-2.2 -2.2zM181.6 209.0l2.2 2.2l-2.2 2.2l-2.2 -2.2zM184.7 199.1l2.2 2.2l-2.2 2.2l-2.2 -2.2zM187.8 194.2l2.2 2.2l-2.2 2.2l-2.2 -2.2zM190.9 194.2l2.2 2.2l-2.2 2.2l-2.2 -2.2zM194.1 194.2l2.2 2.2l-2.2 2.2l-2.2 -2.2zM197.2 189.3l2.2 2.2l-2.2 2.2l-2.2 -2.2zM200.3 189.3l2.2 2.2l-2.2 2.2l-2.2 -2.2zM203.4 179.5l2.2 2.2l-2.2 2.2l-2.2 -2.2zM206.5 179.5l2.2 2.2l-2.2 2.2l-2.2 -2.2zM209.6 169.6l2.2 2.2l-2.2 2.2l-2.2 -2.2zM212.7 169.6l2.2 2.2l-2.2 2.2l-2.2 -2.2zM215.8 164.7l2.2 2.2l-2.2 2.2l-2.2 -2.2zM219.0 159.8l2.2 2.2l-2.2 2.2l-2.2 -2.2zM222.1 164.7l2.2 2.2l-2.2 2.2l-2.2 -2.2zM225.2 159.8l2.2 2.2l-2.2 2.2l-2.2 -2.2zM228.3 159.8l2.2 2.2l-2.2 2.2l-2.2 -2.2zM231.4 159.8l2.2 2.2l-2.2 2.2l-2.2 -2.2zM234.5 159.8l2.2 2.2l-2.2 2.2l-2.2 -2.2zM237.6 145.0l2.2 2.2l-2.2 2.2l-2.2 -2.2zM240.7 145.0l2.2 2.2l-2.2 2.2l-2.2 -2.2zM243.9 140.1l2.2 2.2l-2.2 2.2l-2.2 -2.2zM247.0 145.0l2.2 2.2l-2.2 2.2l-2.2 -2.2zM250.1 145.0l2.2 2.2l-2.2 2.2l-2.2 -2.2zM253.2 145.0l2.2 2.2l-2.2 2.2l-2.2 -2.2zM256.3 145.0l2.2 2.2l-2.2 2.2l-2.2 -2.2zM259.4 145.0l2.2 2.2l-2.2 2.2l-2.2 -2.2zM262.5 150.0l2.2 2.2l-2.2 2.2l-2.2 -2.2zM265.6 130.3l2.2 2.2l-2.2 2.2l-2.2 -2.2zM268.7 130.3l2.2 2.2l-2.2 2.2l-2.2 -2.2zM271.9 125.4l2.2 2.2l-2.2 2.2l-2.2 -2.2zM275.0 125.4l2.2 2.2l-2.2 2.2l-2.2 -2.2zM278.1 120.5l2.2 2.2l-2.2 2.2l-2.2 -2.2zM281.2 115.5l2.2 2.2l-2.2 2.2l-2.2 -2.2zM284.3 115.5l2.2 2.2l-2.2 2.2l-2.2 -2.2zM287.4 115.5l2.2 2.2l-2.2 2.2l-2.2 -2.2zM290.5 105.7l2.2 2.2l-2.2 2.2l-2.2 -2.2zM293.6 110.6l2.2 2.2l-2.2 2.2l-2.2 -2.2zM296.8 110.6l2.2 2.2l-2.2 2.2l-2.2 -2.2zM299.9 110.6l2.2 2.2l-2.2 2.2l-2.2 -2.2zM303.0 110.6l2.2 2.2l-2.2 2.2l-2.2 -2.2zM306.1 110.6l2.2 2.2l-2.2 2.2l-2.2 -2.2zM309.2 105.7l2.2 2.2l-2.2 2.2l-2.2 -2.2zM312.3 105.7l2.2 2.2l-2.2 2.2l-2.2 -2.2zM315.4 95.9l2.2 2.2l-2.2 2.2l-2.2 -2.2zM318.5 91.0l2.2 2.2l-2.2 2.2l-2.2 -2.2zM321.7 115.5l2.2 2.2l-2.2 2.2l-2.2 -2.2zM324.8 115.5l2.2 2.2l-2.2 2.2l-2.2 -2.2zM327.9 110.6l2.2 2.2l-2.2 2.2l-2.2 -2.2zM331.0 100.8l2.2 2.2l-2.2 2.2l-2.2 -2.2zM334.1 110.6l2.2 2.2l-2.2 2.2l-2.2 -2.2zM337.2 120.5l2.2 2.2l-2.2 2.2l-2.2 -2.2zM340.3 135.2l2.2 2.2l-2.2 2.2l-2.2 -2.2zM343.4 140.1l2.2 2.2l-2.2 2.2l-2.2 -2.2zM346.5 135.2l2.2 2.2l-2.2 2.2l-2.2 -2.2zM349.7 140.1l2.2 2.2l-2.2 2.2l-2.2 -2.2zM352.8 140.1l2.2 2.2l-2.2 2.2l-2.2 -2.2zM355.9 140.1l2.2 2.2l-2.2 2.2l-2.2 -2.2zM359.0 115.5l2.2 2.2l-2.2 2.2l-2.2 -2.2zM362.1 130.3l2.2 2.2l-2.2 2.2l-2.2 -2.2zM365.2 120.5l2.2 2.2l-2.2 2.2l-2.2 -2.2zM368.3 120.5l2.2 2.2l-2.2 2.2l-2.2 -2.2zM371.4 115.5l2.2 2.2l-2.2 2.2l-2.2 -2.2zM374.6 110.6l2.2 2.2l-2.2 2.2l-2.2 -2.2zM377.7 110.6l2.2 2.2l-2.2 2.2l-2.2 -2.2zM380.8 110.6l2.2 2.2l-2.2 2.2l-2.2 -2.2zM383.9 110.6l2.2 2.2l-2.2 2.2l-2.2 -2.2zM387.0 110.6l2.2 2.2l-2.2 2.2l-2.2 -2.2zM390.1 110.6l2.2 2.2l-2.2 2.2l-2.2 -2.2zM393.2 110.6l2.2 2.2l-2.2 2.2l-2.2 -2.2zM396.3 110.6l2.2 2.2l-2.2 2.2l-2.2 -2.2zM399.5 105.7l2.2 2.2l-2.2 2.2l-2.2 -2.2zM402.6 100.8l2.2 2.2l-2.2 2.2l-2.2 -2.2zM405.7 100.8l2.2 2.2l-2.2 2.2l-2.2 -2.2zM408.8 100.8l2.2 2.2l-2.2 2.2l-2.2 -2.2zM411.9 95.9l2.2 2.2l-2.2 2.2l-2.2 -2.2zM415.0 95.9l2.2 2.2l-2.2 2.2l-2.2 -2.2zM418.1 91.0l2.2 2.2l-2.2 2.2l-2.2 -2.2zM421.2 150.0l2.2 2.2l-2.2 2.2l-2.2 -2.2zM427.5 140.1l2.2 2.2l-2.2 2.2l-2.2 -2.2zM430.6 125.4l2.2 2.2l-2.2 2.2l-2.2 -2.2zM433.7 115.5l2.2 2.2l-2.2 2.2l-2.2 -2.2zM436.8 115.5l2.2 2.2l-2.2 2.2l-2.2 -2.2zM439.9 115.5l2.2 2.2l-2.2 2.2l-2.2 -2.2zM443.0 95.9l2.2 2.2l-2.2 2.2l-2.2 -2.2zM446.1 110.6l2.2 2.2l-2.2 2.2l-2.2 -2.2zM449.2 115.5l2.2 2.2l-2.2 2.2l-2.2 -2.2zM452.4 115.5l2.2 2.2l-2.2 2.2l-2.2 -2.2zM455.5 120.5l2.2 2.2l-2.2 2.2l-2.2 -2.2zM458.6 135.2l2.2 2.2l-2.2 2.2l-2.2 -2.2zM461.7 140.1l2.2 2.2l-2.2 2.2l-2.2 -2.2zM464.8 145.0l2.2 2.2l-2.2 2.2l-2.2 -2.2zM467.9 145.0l2.2 2.2l-2.2 2.2l-2.2 -2.2zM471.0 135.2l2.2 2.2l-2.2 2.2l-2.2 -2.2zM474.1 135.2l2.2 2.2l-2.2 2.2l-2.2 -2.2zM477.3 135.2l2.2 2.2l-2.2 2.2l-2.2 -2.2zM480.4 135.2l2.2 2.2l-2.2 2.2l-2.2 -2.2zM483.5 140.1l2.2 2.2l-2.2 2.2l-2.2 -2.2zM486.6 150.0l2.2 2.2l-2.2 2.2l-2.2 -2.2zM495.9 159.8l2.2 2.2l-2.2 2.2l-2.2 -2.2zM499.0 145.0l2.2 2.2l-2.2 2.2l-2.2 -2.2zM502.1 154.9l2.2 2.2l-2.2 2.2l-2.2 -2.2zM505.3 154.9l2.2 2.2l-2.2 2.2l-2.2 -2.2zM508.4 154.9l2.2 2.2l-2.2 2.2l-2.2 -2.2zM511.5 154.9l2.2 2.2l-2.2 2.2l-2.2 -2.2zM514.6 150.0l2.2 2.2l-2.2 2.2l-2.2 -2.2zM517.7 150.0l2.2 2.2l-2.2 2.2l-2.2 -2.2zM520.8 150.0l2.2 2.2l-2.2 2.2l-2.2 -2.2zM523.9 150.0l2.2 2.2l-2.2 2.2l-2.2 -2.2zM527.0 164.7l2.2 2.2l-2.2 2.2l-2.2 -2.2zM530.2 150.0l2.2 2.2l-2.2 2.2l-2.2 -2.2zM533.3 150.0l2.2 2.2l-2.2 2.2l-2.2 -2.2zM536.4 140.1l2.2 2.2l-2.2 2.2l-2.2 -2.2zM539.5 140.1l2.2 2.2l-2.2 2.2l-2.2 -2.2zM542.6 130.3l2.2 2.2l-2.2 2.2l-2.2 -2.2zM545.7 140.1l2.2 2.2l-2.2 2.2l-2.2 -2.2zM548.8 135.2l2.2 2.2l-2.2 2.2l-2.2 -2.2zM551.9 145.0l2.2 2.2l-2.2 2.2l-2.2 -2.2zM555.1 145.0l2.2 2.2l-2.2 2.2l-2.2 -2.2zM558.2 164.7l2.2 2.2l-2.2 2.2l-2.2 -2.2zM561.3 179.5l2.2 2.2l-2.2 2.2l-2.2 -2.2zM564.4 179.5l2.2 2.2l-2.2 2.2l-2.2 -2.2zM567.5 189.3l2.2 2.2l-2.2 2.2l-2.2 -2.2zM570.6 194.2l2.2 2.2l-2.2 2.2l-2.2 -2.2zM573.7 189.3l2.2 2.2l-2.2 2.2l-2.2 -2.2zM576.8 184.4l2.2 2.2l-2.2 2.2l-2.2 -2.2zM579.9 199.1l2.2 2.2l-2.2 2.2l-2.2 -2.2zM583.1 199.1l2.2 2.2l-2.2 2.2l-2.2 -2.2zM592.4 189.3l2.2 2.2l-2.2 2.2l-2.2 -2.2zM598.6 174.6l2.2 2.2l-2.2 2.2l-2.2 -2.2zM601.7 179.5l2.2 2.2l-2.2 2.2l-2.2 -2.2zM604.8 174.6l2.2 2.2l-2.2 2.2l-2.2 -2.2zM608.0 174.6l2.2 2.2l-2.2 2.2l-2.2 -2.2zM611.1 174.6l2.2 2.2l-2.2 2.2l-2.2 -2.2zM614.2 174.6l2.2 2.2l-2.2 2.2l-2.2 -2.2zM617.3 179.5l2.2 2.2l-2.2 2.2l-2.2 -2.2zM620.4 179.5l2.2 2.2l-2.2 2.2l-2.2 -2.2zM623.5 179.5l2.2 2.2l-2.2 2.2l-2.2 -2.2zM626.6 179.5l2.2 2.2l-2.2 2.2l-2.2 -2.2zM629.7 184.4l2.2 2.2l-2.2 2.2l-2.2 -2.2zM632.9 189.3l2.2 2.2l-2.2 2.2l-2.2 -2.2zM636.0 189.3l2.2 2.2l-2.2 2.2l-2.2 -2.2zM639.1 184.4l2.2 2.2l-2.2 2.2l-2.2 -2.2zM642.2 194.2l2.2 2.2l-2.2 2.2l-2.2 -2.2zM645.3 204.1l2.2 2.2l-2.2 2.2l-2.2 -2.2zM648.4 209.0l2.2 2.2l-2.2 2.2l-2.2 -2.2zM651.5 218.8l2.2 2.2l-2.2 2.2l-2.2 -2.2zM654.6 218.8l2.2 2.2l-2.2 2.2l-2.2 -2.2zM657.7 218.8l2.2 2.2l-2.2 2.2l-2.2 -2.2zM660.9 223.7l2.2 2.2l-2.2 2.2l-2.2 -2.2zM664.0 204.1l2.2 2.2l-2.2 2.2l-2.2 -2.2zM667.1 204.1l2.2 2.2l-2.2 2.2l-2.2 -2.2zM670.2 209.0l2.2 2.2l-2.2 2.2l-2.2 -2.2zM673.3 199.1l2.2 2.2l-2.2 2.2l-2.2 -2.2zM676.4 194.2l2.2 2.2l-2.2 2.2l-2.2 -2.2zM679.5 194.2l2.2 2.2l-2.2 2.2l-2.2 -2.2zM682.6 199.1l2.2 2.2l-2.2 2.2l-2.2 -2.2zM685.8 194.2l2.2 2.2l-2.2 2.2l-2.2 -2.2zM688.9 199.1l2.2 2.2l-2.2 2.2l-2.2 -2.2zM692.0 199.1l2.2 2.2l-2.2 2.2l-2.2 -2.2zM695.1 199.1l2.2 2.2l-2.2 2.2l-2.2 -2.2zM698.2 194.2l2.2 2.2l-2.2 2.2l-2.2 -2.2zM701.3 199.1l2.2 2.2l-2.2 2.2l-2.2 -2.2zM704.4 199.1l2.2 2.2l-2.2 2.2l-2.2 -2.2zM710.7 199.1l2.2 2.2l-2.2 2.2l-2.2 -2.2zM713.8 194.2l2.2 2.2l-2.2 2.2l-2.2 -2.2zM716.9 194.2l2.2 2.2l-2.2 2.2l-2.2 -2.2zM720.0 189.3l2.2 2.2l-2.2 2.2l-2.2 -2.2zM723.1 179.5l2.2 2.2l-2.2 2.2l-2.2 -2.2zM726.2 179.5l2.2 2.2l-2.2 2.2l-2.2 -2.2zM729.3 179.5l2.2 2.2l-2.2 2.2l-2.2 -2.2zM732.4 174.6l2.2 2.2l-2.2 2.2l-2.2 -2.2zM735.5 174.6l2.2 2.2l-2.2 2.2l-2.2 -2.2zM738.7 179.5l2.2 2.2l-2.2 2.2l-2.2 -2.2zM741.8 204.1l2.2 2.2l-2.2 2.2l-2.2 -2.2zM744.9 213.9l2.2 2.2l-2.2 2.2l-2.2 -2.2zM748.0 228.6l2.2 2.2l-2.2 2.2l-2.2 -2.2zM751.1 194.2l2.2 2.2l-2.2 2.2l-2.2 -2.2z" fill="#a3c462" stroke="#86a548" stroke-width="0.6"/>
<path d="M425.5 66.3V367.5" stroke="#cc1f1f" stroke-width="2.1" fill="none"/>
<circle cx="425.5" cy="367.4" r="2.3" fill="#cc1f1f"/>
<rect x="550.5" y="70" width="210.5" height="61.5" fill="#fff"/>
<path d="M583 78.6H599" stroke="#4a86c6" stroke-width="1.5"/><path d="M591 76.3l2.3 2.3l-2.3 2.3l-2.3-2.3z" fill="#4a86c6"/>
<path d="M583 91.7H599" stroke="#c3d5ea" stroke-width="1.3" stroke-dasharray="4 3"/>
<path d="M583 103.9H599" stroke="#86a548" stroke-width="1.5"/><path d="M591 101.6l2.3 2.3l-2.3 2.3l-2.3-2.3z" fill="#a3c462" stroke="#86a548" stroke-width="0.5"/>
<path d="M583 115.9H599" stroke="#cfe0b0" stroke-width="1.3" stroke-dasharray="4 3"/>
<path d="M582.5 128.4H597.3" stroke="#cc1f1f" stroke-width="2.2"/>
<g class="cal" font-size="8.6" fill="#111" stroke="#111" stroke-width="0.2">
<text x="600.6" y="83" textLength="95.5" lengthAdjust="spacingAndGlyphs">% of Appellate posts vacant</text>
<text x="600.6" y="94.9" textLength="128.7" lengthAdjust="spacingAndGlyphs">6 Month Appellate Vacancy Averages</text>
<text x="600.6" y="107.3" textLength="87.5" lengthAdjust="spacingAndGlyphs">% of District Posts Vacant</text>
<text x="600.6" y="118.9" textLength="120.5" lengthAdjust="spacingAndGlyphs">6 Month District Vacancy Averages</text>
</g>
<text class="dj" x="601" y="131" font-size="8.5" fill="#222" textLength="60.6" lengthAdjust="spacingAndGlyphs">New Congress</text>
<text class="dj" x="161.2" y="41.2" font-size="18.3" fill="#111" textLength="547" lengthAdjust="spacingAndGlyphs">Percentage of vacant posts from 1/1/2009 Until 9/19/2012</text>
<text class="dj" transform="translate(35.2 359) rotate(-90)" font-size="17.9" fill="#333" textLength="257.2" lengthAdjust="spacingAndGlyphs">Percentage of Posts Vacant</text>
<text class="dj" x="344.2" y="451.6" font-size="29.7" fill="#333">Date</text>
</svg>
</body></html>
